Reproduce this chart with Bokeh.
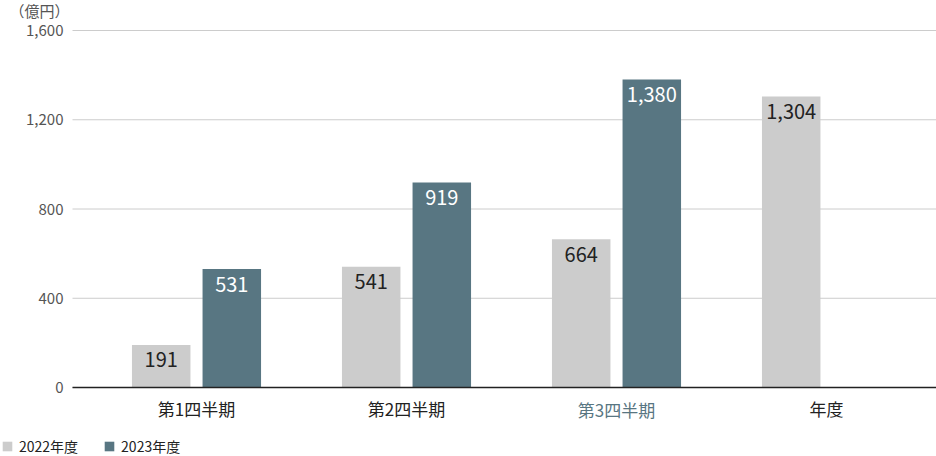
from bokeh.plotting import figure
from bokeh.models import (Range1d, FixedTicker, Label, Legend, LegendItem,
                          ColumnDataSource, NumeralTickFormatter)
from bokeh.transform import dodge
from bokeh.embed import file_html
from bokeh.resources import INLINE
from bokeh.core.properties import value

# ---- data ----
categories = ["第1四半期", "第2四半期", "第3四半期", "年度"]
fy2022 = [191, 541, 664, 1304]
fy2023 = [531, 919, 1380, None]
series_names = ["2022年度", "2023年度"]
y_ticks = [0, 400, 800, 1200, 1600]
unit_label = "（億円）"
highlight = "第3四半期"

FONT = "Noto Sans CJK JP"
GRAY = "#cccccc"
DARK = "#587682"

W_PX, H_PX = 936, 456
# layout (pixels): category spacing, first category centre, plot left edge,
# baseline and top gridline positions
CAT_PX = 210.0
CAT0_PX = 196.0
LEFT_PX = 72.0
BASE_PX = 387.0
TOP_PX = 30.0

xs = list(range(len(categories)))
x_start = -CAT0_PX / CAT_PX
x_end = (W_PX - CAT0_PX) / CAT_PX
x_left = (LEFT_PX - CAT0_PX) / CAT_PX
ppu = (BASE_PX - TOP_PX) / y_ticks[-1]
y_start = -(H_PX - BASE_PX) / ppu
y_end = y_ticks[-1] + TOP_PX / ppu


def make_source(vals):
    pts = [(x, v) for x, v in zip(xs, vals) if v is not None]
    return ColumnDataSource(dict(
        x=[a for a, _ in pts],
        top=[b for _, b in pts],
        label=[f"{b:,}" for _, b in pts],
    ))


src22 = make_source(fy2022)
src23 = make_source(fy2023)

p = figure(width=W_PX, height=H_PX, output_backend="svg", toolbar_location=None,
           x_range=Range1d(x_start, x_end), y_range=Range1d(y_start, y_end),
           min_border=0)
p.outline_line_color = None
p.xgrid.visible = False
p.ygrid.visible = False

# horizontal gridlines, starting at the plot's left edge
p.segment(x0=[x_left] * len(y_ticks), x1=[x_end] * len(y_ticks),
          y0=y_ticks, y1=y_ticks, line_color="#cccccc", line_width=1)

OFF = 35.3 / CAT_PX
W = 58.5 / CAT_PX
r22 = p.vbar(x=dodge("x", -OFF, range=p.x_range), top="top", width=W,
             source=src22, fill_color=GRAY, line_color=None)
r23 = p.vbar(x=dodge("x", OFF, range=p.x_range), top="top", width=W,
             source=src23, fill_color=DARK, line_color=None)

p.text(x=dodge("x", -OFF, range=p.x_range), y="top", text="label", source=src22,
       text_align="center", text_baseline="middle", y_offset=15,
       text_font=value(FONT), text_font_size="20px", text_color="#222222")
p.text(x=dodge("x", OFF, range=p.x_range), y="top", text="label", source=src23,
       text_align="center", text_baseline="middle", y_offset=15,
       text_font=value(FONT), text_font_size="20px", text_color="#ffffff")

# y axis
p.yaxis.fixed_location = x_left
p.yaxis.ticker = FixedTicker(ticks=y_ticks)
p.yaxis.formatter = NumeralTickFormatter(format="0,0")
p.yaxis.axis_line_color = None
p.yaxis.major_tick_line_color = None
p.yaxis.minor_tick_line_color = None
p.yaxis.major_tick_out = 0
p.yaxis.major_tick_in = 0
p.yaxis.major_label_standoff = 9
p.yaxis.major_label_text_font = FONT
p.yaxis.major_label_text_font_size = "15px"
p.yaxis.major_label_text_color = "#555555"

# x axis
hi = categories.index(highlight)
p.xaxis.fixed_location = 0
p.xaxis.bounds = (x_left, x_end)
p.xaxis.ticker = FixedTicker(ticks=xs)
p.xaxis.major_label_overrides = {x: ("" if x == hi else c) for x, c in zip(xs, categories)}
p.xaxis.axis_line_color = "#222222"
p.xaxis.axis_line_width = 1.5
p.xaxis.major_tick_line_color = None
p.xaxis.minor_tick_line_color = None
p.xaxis.major_tick_out = 0
p.xaxis.major_tick_in = 0
p.xaxis.major_label_standoff = 8
p.xaxis.major_label_text_font = FONT
p.xaxis.major_label_text_font_size = "17px"
p.xaxis.major_label_text_color = "#222222"

p.add_layout(Label(x=xs[hi], y=0, text=highlight, text_align="center",
                   text_baseline="middle", y_offset=-22, text_font=FONT,
                   text_font_size="17px", text_color=DARK))

p.add_layout(Label(x=9, y=H_PX - 10, x_units="screen", y_units="screen",
                   text=unit_label, text_baseline="middle", text_font=FONT,
                   text_font_size="15px", text_color="#555555"))

legend = Legend(items=[LegendItem(label=series_names[0], renderers=[r22]),
                       LegendItem(label=series_names[1], renderers=[r23])],
                orientation="horizontal", location=(1, 0),
                glyph_width=12, glyph_height=12, label_height=12,
                label_standoff=6, spacing=25, padding=0, margin=0,
                border_line_color=None, background_fill_alpha=0,
                label_text_font=FONT, label_text_font_size="14px",
                label_text_color="#222222")
p.add_layout(legend, "center")

open("out.html", "w").write(file_html(p, INLINE))
